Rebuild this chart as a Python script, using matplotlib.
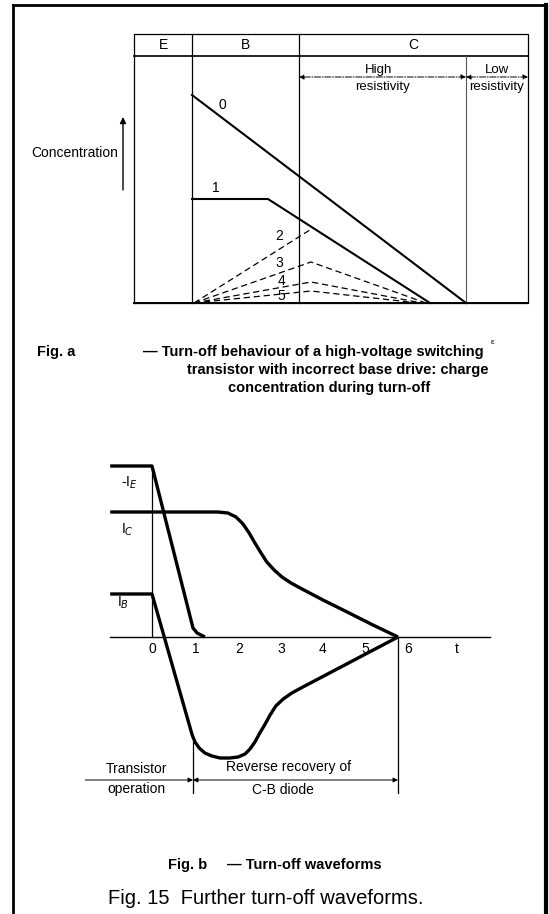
import matplotlib
matplotlib.use('Agg')
import matplotlib.pyplot as plt
from matplotlib.lines import Line2D

W, H = 549, 914

# ---------------- Fig. a : charge concentration (depth units / concentration units)
regions = ['E', 'B', 'C']
region_edges = [0, 5.8, 16.5, 39.4]
hr_lr_edge = 33.2
header_lo, header_hi = 24.7, 26.9

prof0_x = [5.8, 33.2]
prof0_y = [20.8, 0.0]
prof1_x = [5.8, 13.4, 29.6]
prof1_y = [10.4, 10.4, 0.0]
dashed_x = [[6.0, 17.9], [6.0, 17.7, 29.2], [6.0, 17.7, 28.8], [6.0, 17.7, 28.4]]
dashed_y = [[0.0, 7.5], [0.0, 4.1, 0.0], [0.0, 2.1, 0.0], [0.0, 1.2, 0.0]]
curve_names = ['0', '1', '2', '3', '4', '5']

# ---------------- Fig. b : turn-off waveforms (time units / current units)
t_ticks = [0, 1, 2, 3, 4, 5, 6]
ie_t = [-1.02, 0.0, 1.0, 1.1, 1.29]
ie_y = [1.71, 1.71, 0.09, 0.04, 0.0]
ic_t = [-1.02, 1.61, 1.85, 2.05, 2.22, 2.37, 2.51, 2.66, 2.80, 2.98, 3.17, 3.39, 3.66,
        4.17, 4.76, 5.39, 6.0]
ic_y = [1.25, 1.25, 1.24, 1.20, 1.13, 1.04, 0.94, 0.84, 0.75, 0.67, 0.60, 0.54, 0.48,
        0.37, 0.25, 0.12, 0.0]
ib_t = [-1.02, 0.0, 0.98, 1.05, 1.15, 1.29, 1.46, 1.66, 1.90, 2.10, 2.27, 2.39, 2.51,
        2.63, 2.76, 2.88, 3.02, 3.20, 3.41, 3.68, 6.0]
ib_y = [0.43, 0.43, -0.98, -1.05, -1.11, -1.16, -1.19, -1.21, -1.21, -1.20, -1.17, -1.12,
        -1.05, -0.96, -0.87, -0.78, -0.69, -0.62, -0.56, -0.50, 0.0]

FONT = 'Liberation Sans'
plt.rcParams['font.family'] = FONT

fig = plt.figure(figsize=(W / 100, H / 100), dpi=100)


def fx(px):
    return px / W


def fy(py):
    return 1 - py / H


# outer frame (open at the bottom)
fig.add_artist(Line2D([fx(13), fx(13)], [0, fy(5)], color='black', lw=2))
fig.add_artist(Line2D([fx(13), fx(546)], [fy(5), fy(5)], color='black', lw=2))
fig.add_artist(Line2D([fx(546), fx(546)], [fy(5), 0], color='black', lw=3))

# ================= top diagram =================
ax1 = fig.add_axes([fx(100), fy(320), 440 / W, 300 / H])
ax1.set_xlim(-3.4, 40.6)
ax1.set_ylim(-1.7, 28.3)
ax1.axis('off')

x0, x1 = region_edges[0], region_edges[-1]
thin = dict(color='black', lw=0.9)
ax1.plot([x0, x1, x1, x0, x0], [0, 0, header_hi, header_hi, 0], **thin)
ax1.plot([x0, x1], [0, 0], color='black', lw=1.4)
ax1.plot([x0, x1], [header_lo, header_lo], color='black', lw=1.2)
for e in region_edges[1:-1]:
    ax1.plot([e, e], [0, header_hi], **thin)
ax1.plot([hr_lr_edge, hr_lr_edge], [0, header_lo], color='#555555', lw=0.8)
for name, a, b in zip(regions, region_edges[:-1], region_edges[1:]):
    ax1.text((a + b) / 2, (header_lo + header_hi) / 2, name, ha='center', va='center', fontsize=10)

# resistivity dimension arrows
arr = dict(arrowstyle='<|-|>', color='black', lw=0.7, linestyle='-.', mutation_scale=7,
           shrinkA=0, shrinkB=0)
ax1.annotate('', xy=(region_edges[2], 22.6), xytext=(hr_lr_edge, 22.6), arrowprops=arr)
ax1.annotate('', xy=(hr_lr_edge, 22.6), xytext=(x1, 22.6), arrowprops=arr)
ax1.text(24.5, 23.3, 'High', ha='center', va='center', fontsize=9.5)
ax1.text(24.8, 21.6, 'resistivity', ha='center', va='center', fontsize=9.5)
ax1.text(36.3, 23.3, 'Low', ha='center', va='center', fontsize=9.5)
ax1.text(36.3, 21.6, 'resistivity', ha='center', va='center', fontsize=9.5)

# profiles
ax1.plot(prof0_x, prof0_y, color='black', lw=1.5)
ax1.plot(prof1_x, prof1_y, color='black', lw=1.5)
for xs, ys in zip(dashed_x, dashed_y):
    ax1.plot(xs, ys, color='black', lw=0.9, linestyle=(0, (5, 3)))
name_pos = [(8.8, 19.8), (8.2, 11.5), (14.5, 6.7), (14.5, 4.0), (14.7, 2.2), (14.7, 0.7)]
for n, (px_, py_) in zip(curve_names, name_pos):
    ax1.text(px_, py_, n, ha='center', va='center', fontsize=10)

# concentration axis arrow
ax1.annotate('', xy=(-1.1, 18.6), xytext=(-1.1, 11.3),
             arrowprops=dict(arrowstyle='-|>', color='black', lw=1.0, mutation_scale=9,
                             shrinkA=0, shrinkB=0), annotation_clip=False)
ax1.text(-1.6, 15.0, 'Concentration', ha='right', va='center', fontsize=10, clip_on=False)

# caption a
fig.text(fx(37), fy(352), 'Fig. a', fontsize=10.5, fontweight='bold', va='center')
fig.text(fx(143), fy(352), '\u2014 Turn-off behaviour of a high-voltage switching',
         fontsize=10.5, fontweight='bold', va='center')
fig.text(fx(338), fy(370), 'transistor with incorrect base drive: charge',
         fontsize=10.5, fontweight='bold', va='center', ha='center')
fig.text(fx(329), fy(388), 'concentration during turn-off',
         fontsize=10.5, fontweight='bold', va='center', ha='center')
fig.text(fx(493), fy(342), '\u03b5', fontsize=6, va='center', ha='center')

# ================= bottom diagram =================
ax2 = fig.add_axes([fx(80), fy(800), 420 / W, 360 / H])
ax2.set_xlim(-72 / 41, 348 / 41)
ax2.set_ylim(-1.63, 1.97)
ax2.axis('off')

ax2.plot([-1.02, 8.24], [0, 0], color='black', lw=1.0)
ax2.plot([0, 0], [0, ie_y[0]], color='black', lw=0.9)
ax2.plot([1, 1], [-1.05, -1.56], color='black', lw=0.9)
ax2.plot([6, 6], [0, -1.56], color='black', lw=0.9)

wave = dict(color='black', lw=2.4, solid_joinstyle='round', solid_capstyle='butt')
ax2.plot(ie_t, ie_y, **wave)
ax2.plot(ic_t, ic_y, **wave)
ax2.plot(ib_t, ib_y, **wave)

tick_x = [0.02, 1.07, 2.12, 3.15, 4.17, 5.2, 6.25]
for t, xpos in zip(t_ticks, tick_x):
    ax2.text(xpos, -0.12, str(t), ha='center', va='center', fontsize=10)
ax2.text(7.44, -0.12, 't', ha='center', va='center', fontsize=10)

ax2.text(-0.54, 1.54, r'-I$_{E}$', ha='center', va='center', fontsize=10)
ax2.text(-0.59, 1.07, r'I$_{C}$', ha='center', va='center', fontsize=10)
ax2.text(-0.70, 0.34, r'I$_{B}$', ha='center', va='center', fontsize=10)

dim = dict(color='black', lw=0.7, mutation_scale=7, shrinkA=0, shrinkB=0)
ax2.annotate('', xy=(1, -1.43), xytext=(-1.63, -1.43), arrowprops=dict(arrowstyle='-|>', **dim))
ax2.annotate('', xy=(1, -1.43), xytext=(6, -1.43), arrowprops=dict(arrowstyle='<|-|>', **dim))
ax2.text(-0.39, -1.32, 'Transistor', ha='center', va='center', fontsize=10)
ax2.text(-0.39, -1.52, 'operation', ha='center', va='center', fontsize=10)
ax2.text(3.34, -1.30, 'Reverse recovery of', ha='center', va='center', fontsize=10)
ax2.text(3.2, -1.53, 'C-B diode', ha='center', va='center', fontsize=10)

# caption b and figure title
fig.text(fx(168), fy(865), 'Fig. b', fontsize=10.5, fontweight='bold', va='center')
fig.text(fx(227), fy(865), '\u2014 Turn-off waveforms', fontsize=10.5, fontweight='bold', va='center')
fig.text(fx(108), fy(898), 'Fig. 15  Further turn-off waveforms.', fontsize=14.5, va='center')

fig.savefig('out.png', dpi=100)
